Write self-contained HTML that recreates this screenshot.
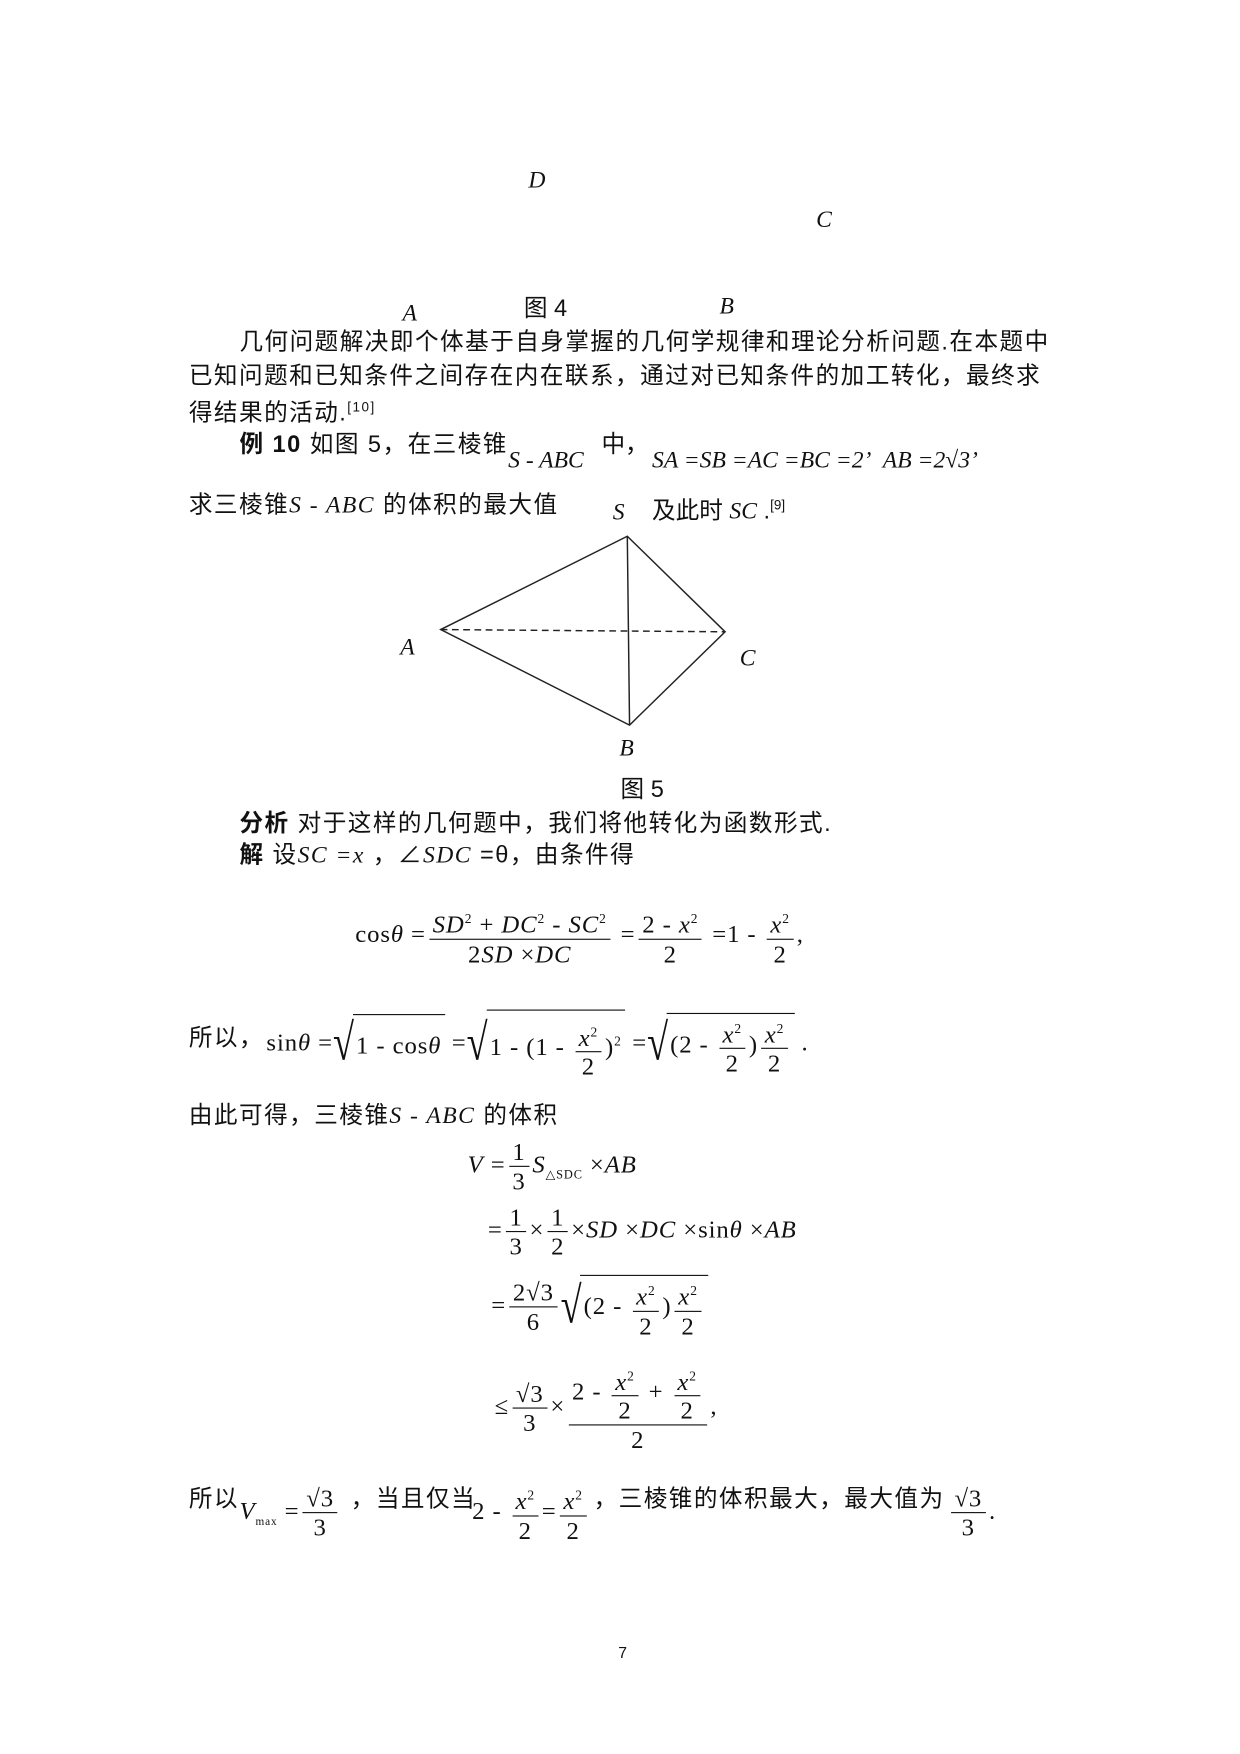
<!DOCTYPE html>
<html><head><meta charset="utf-8">
<style>
html,body{margin:0;padding:0;background:#fff;width:1240px;height:1754px;overflow:hidden}
#w{position:absolute;left:0;top:0;width:1103px;height:1560px;transform:scale(1.1242);transform-origin:0 0;font-family:"Liberation Sans","Noto Sans CJK SC",sans-serif;color:#111}
.a{position:absolute;white-space:nowrap;font-size:21px;line-height:24px}
.c{letter-spacing:1.3px}
.m{font-family:"Liberation Serif",serif;font-style:italic}
.r{font-family:"Liberation Serif",serif;font-size:22px;letter-spacing:0.8px}
.fr{display:inline-flex;flex-direction:column;align-items:center;vertical-align:middle;font-family:"Liberation Serif",serif;margin:0 3px}
.fr>span{line-height:25px;padding:0 3px}
.fr>span:first-child{border-bottom:1px solid #111}
sup{font-size:12px}
.sq{display:inline-block;border-top:1px solid #111;padding:0 3px;vertical-align:middle}
.rad{display:inline-block;font-size:34px;transform:scaleY(1.35);vertical-align:middle;margin-right:-2px}
</style></head><body><div id="w">
<div class="a m" style="left:470px;top:148px">D</div>
<div class="a m" style="left:726px;top:183px">C</div>
<div class="a m" style="left:358px;top:266px">A</div>
<div class="a" style="left:466px;top:263px">图 4</div>
<div class="a m" style="left:640px;top:260px">B</div>

<div class="a c" style="left:213px;top:293px">几何问题解决即个体基于自身掌握的几何学规律和理论分析问题.在本题中</div>
<div class="a c" style="left:168px;top:323px">已知问题和已知条件之间存在内在联系，通过对已知条件的加工转化，最终求</div>
<div class="a c" style="left:168px;top:350px">得结果的活动.<sup>[10]</sup></div>
<div class="a c" style="left:213px;top:384px"><b>例 10</b> 如图 5，在三棱锥</div>
<div class="a m" style="left:452px;top:397px">S - ABC</div>
<div class="a" style="left:535px;top:384px">中，</div>
<div class="a m" style="left:580px;top:397px">SA =SB =AC =BC =2’&nbsp; AB =2√3’</div>
<div class="a c" style="left:168px;top:437px">求三棱锥<span class="m">S - ABC</span> 的体积的最大值</div>
<div class="a m" style="left:545px;top:443px">S</div>
<div class="a" style="left:580px;top:437px">及此时 <span class="m">SC</span> .<sup>[9]</sup></div>

<svg style="position:absolute;left:0;top:0" width="1103" height="1560">
<g stroke="#222" stroke-width="1.3" fill="none">
<path d="M558 477 L392 560 L560 645 L645 562 Z"/>
<path d="M558 477 L560 645"/>
<path d="M392 560 L645 562" stroke-dasharray="6,4"/>
</g></svg>
<div class="a m" style="left:356px;top:563px">A</div>
<div class="a m" style="left:658px;top:573px">C</div>
<div class="a m" style="left:551px;top:653px">B</div>
<div class="a" style="left:552px;top:691px">图 5</div>

<div class="a c" style="left:213px;top:721px"><b>分析</b> 对于这样的几何题中，我们将他转化为函数形式.</div>
<div class="a c" style="left:213px;top:748px"><b>解</b> 设<span class="m">SC =x</span> ，∠<span class="m">SDC</span> =θ，由条件得</div>

<div class="a r" style="left:316px;top:805px;line-height:52px">cos<i>θ</i> =<span class="fr"><span><i>SD</i><sup>2</sup> + <i>DC</i><sup>2</sup> - <i>SC</i><sup>2</sup></span><span>2<i>SD</i> ×<i>DC</i></span></span> =<span class="fr"><span>2 - <i>x</i><sup>2</sup></span><span>2</span></span> =1 - <span class="fr"><span><i>x</i><sup>2</sup></span><span>2</span></span>,</div>

<div class="a c" style="left:168px;top:912px">所以，</div>
<div class="a r" style="left:237px;top:898px;line-height:54px">sin<i>θ</i> =<span class="rad">√</span><span class="sq">1 - cos<i>θ</i></span> =<span class="rad">√</span><span class="sq">1 - (1 - <span class="fr"><span><i>x</i><sup>2</sup></span><span>2</span></span>)<sup>2</sup></span> =<span class="rad">√</span><span class="sq">(2 - <span class="fr"><span><i>x</i><sup>2</sup></span><span>2</span></span>)<span class="fr"><span><i>x</i><sup>2</sup></span><span>2</span></span></span> .</div>

<div class="a c" style="left:168px;top:980px">由此可得，三棱锥<span class="m">S - ABC</span> 的体积</div>

<div class="a r" style="left:416px;top:1010px;line-height:52px"><i>V</i> =<span class="fr"><span>1</span><span>3</span></span><i>S</i><sub style="font-size:11px">△SDC</sub> ×<i>AB</i></div>
<div class="a r" style="left:434px;top:1068px;line-height:52px">=<span class="fr"><span>1</span><span>3</span></span>×<span class="fr"><span>1</span><span>2</span></span>×<i>SD</i> ×<i>DC</i> ×sin<i>θ</i> ×<i>AB</i></div>
<div class="a r" style="left:437px;top:1134px;line-height:54px">=<span class="fr"><span>2√3</span><span>6</span></span><span class="rad">√</span><span class="sq">(2 - <span class="fr"><span><i>x</i><sup>2</sup></span><span>2</span></span>)<span class="fr"><span><i>x</i><sup>2</sup></span><span>2</span></span></span></div>
<div class="a r" style="left:440px;top:1212px;line-height:52px">≤<span class="fr"><span>√3</span><span>3</span></span>×<span class="fr"><span>2 - <span class="fr"><span><i>x</i><sup>2</sup></span><span style="border:0">2</span></span> + <span class="fr"><span><i>x</i><sup>2</sup></span><span style="border:0">2</span></span></span><span>2</span></span>,</div>

<div class="a c" style="left:168px;top:1322px">所以</div>
<div class="a r" style="left:213px;top:1318px;line-height:52px"><i>V</i><sub style="font-size:10px">max</sub> =<span class="fr"><span>√3</span><span>3</span></span></div>
<div class="a c" style="left:312px;top:1322px">，当且仅当</div>
<div class="a r" style="left:420px;top:1318px;line-height:52px">2 - <span class="fr"><span><i>x</i><sup>2</sup></span><span>2</span></span>=<span class="fr"><span><i>x</i><sup>2</sup></span><span>2</span></span></div>
<div class="a c" style="left:528px;top:1322px">，三棱锥的体积最大，最大值为</div>
<div class="a r" style="left:843px;top:1318px;line-height:52px"><span class="fr"><span>√3</span><span>3</span></span>.</div>

<div class="a" style="left:550px;top:1458px;font-size:14px">7</div>
</div></body></html>
